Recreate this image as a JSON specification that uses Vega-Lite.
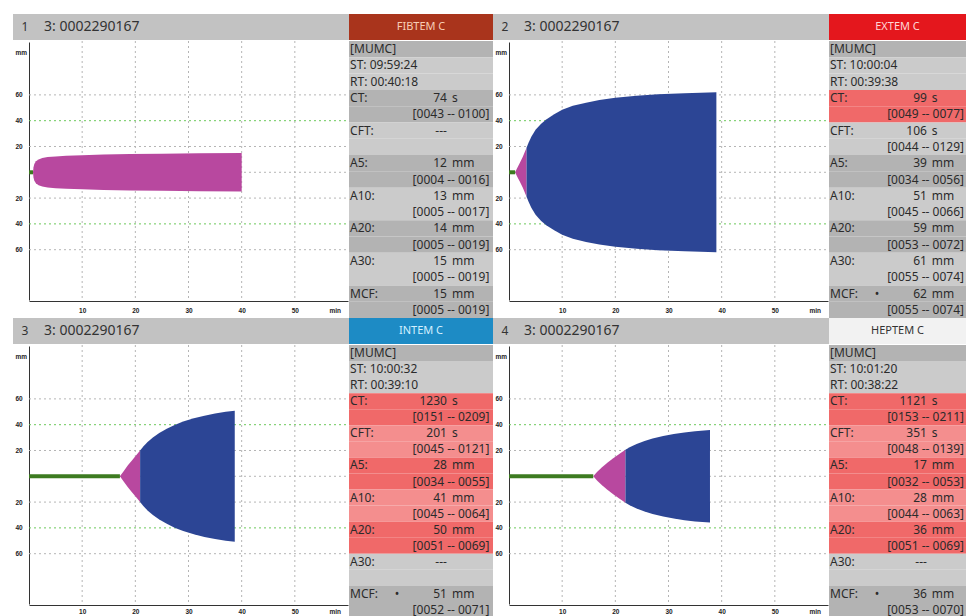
{
  "$schema": "https://vega.github.io/schema/vega-lite/v6.json",
  "padding": {"left": 13, "top": 14, "right": 0, "bottom": 0},
  "background": "white",
  "spacing": 0,
  "config": {
    "view": {"stroke": null},
    "concat": {"spacing": 0},
    "text": {"font": "Noto Sans"},
    "axis": {"ticks": false, "grid": false, "domainColor": "#333333", "domainWidth": 1, "labelFont": "Liberation Sans", "labelFontWeight": "bold", "labelFontSize": 6.5, "labelColor": "#222222", "labelOverlap": false, "labelFlush": false}
  },
  "datasets": {
    "panels": [
      {"p": 1, "sample": "3: 0002290167", "test": "FIBTEM C"},
      {"p": 2, "sample": "3: 0002290167", "test": "EXTEM C"},
      {"p": 3, "sample": "3: 0002290167", "test": "INTEM C"},
      {"p": 4, "sample": "3: 0002290167", "test": "HEPTEM C"}
    ],
    "vgrid": [{"v": 10}, {"v": 20}, {"v": 30}, {"v": 40}, {"v": 50}],
    "hgrid": [{"v": 60, "k": "g"}, {"v": 40, "k": "r"}, {"v": 20, "k": "g"}, {"v": 0, "k": "g"}, {"v": -20, "k": "g"}, {"v": -40, "k": "r"}, {"v": -60, "k": "g"}],
    "onset": [
      {"p": 1, "start": 0, "end": 0.75},
      {"p": 2, "start": 0, "end": 1.15},
      {"p": 3, "start": 0, "end": 17.1},
      {"p": 4, "start": 0, "end": 15.85}
    ],
    "trace": [
      {"p": 1, "ph": "clot", "t": 0.75, "hi": 0, "lo": 0},
      {"p": 1, "ph": "clot", "t": 0.85, "hi": 4, "lo": -4},
      {"p": 1, "ph": "clot", "t": 1.0, "hi": 6.5, "lo": -6.5},
      {"p": 1, "ph": "clot", "t": 1.3, "hi": 8.5, "lo": -8.5},
      {"p": 1, "ph": "clot", "t": 1.8, "hi": 10, "lo": -10},
      {"p": 1, "ph": "clot", "t": 2.5, "hi": 11, "lo": -11},
      {"p": 1, "ph": "clot", "t": 3.5, "hi": 11.8, "lo": -11.8},
      {"p": 1, "ph": "clot", "t": 5, "hi": 12.3, "lo": -12.3},
      {"p": 1, "ph": "clot", "t": 7, "hi": 12.8, "lo": -12.8},
      {"p": 1, "ph": "clot", "t": 10, "hi": 13.2, "lo": -13.2},
      {"p": 1, "ph": "clot", "t": 14, "hi": 13.7, "lo": -13.7},
      {"p": 1, "ph": "clot", "t": 19, "hi": 14.1, "lo": -14.1},
      {"p": 1, "ph": "clot", "t": 25, "hi": 14.4, "lo": -14.4},
      {"p": 1, "ph": "clot", "t": 32, "hi": 14.7, "lo": -14.7},
      {"p": 1, "ph": "clot", "t": 40, "hi": 14.9, "lo": -14.9},
      {"p": 2, "ph": "clot", "t": 1.15, "hi": 0, "lo": 0},
      {"p": 2, "ph": "clot", "t": 1.5, "hi": 3, "lo": -3},
      {"p": 2, "ph": "clot", "t": 2.0, "hi": 7, "lo": -7},
      {"p": 2, "ph": "clot", "t": 2.6, "hi": 12, "lo": -12},
      {"p": 2, "ph": "clot", "t": 3.3, "hi": 19, "lo": -19},
      {"p": 2, "ph": "firm", "t": 3.3, "hi": 19, "lo": -19},
      {"p": 2, "ph": "firm", "t": 3.7, "hi": 23, "lo": -23},
      {"p": 2, "ph": "firm", "t": 4.2, "hi": 27.5, "lo": -27.5},
      {"p": 2, "ph": "firm", "t": 5, "hi": 33, "lo": -33},
      {"p": 2, "ph": "firm", "t": 6, "hi": 37.5, "lo": -37.5},
      {"p": 2, "ph": "firm", "t": 7, "hi": 41, "lo": -41},
      {"p": 2, "ph": "firm", "t": 8.5, "hi": 45, "lo": -45},
      {"p": 2, "ph": "firm", "t": 10, "hi": 48.5, "lo": -48.5},
      {"p": 2, "ph": "firm", "t": 12, "hi": 51.5, "lo": -51.5},
      {"p": 2, "ph": "firm", "t": 14.5, "hi": 54, "lo": -54},
      {"p": 2, "ph": "firm", "t": 17, "hi": 56, "lo": -56},
      {"p": 2, "ph": "firm", "t": 20, "hi": 57.8, "lo": -57.8},
      {"p": 2, "ph": "firm", "t": 24, "hi": 59.3, "lo": -59.3},
      {"p": 2, "ph": "firm", "t": 28, "hi": 60.4, "lo": -60.4},
      {"p": 2, "ph": "firm", "t": 33, "hi": 61.3, "lo": -61.3},
      {"p": 2, "ph": "firm", "t": 39, "hi": 62, "lo": -62},
      {"p": 3, "ph": "clot", "t": 17.1, "hi": 0, "lo": 0},
      {"p": 3, "ph": "clot", "t": 17.8, "hi": 4, "lo": -4},
      {"p": 3, "ph": "clot", "t": 18.6, "hi": 8.5, "lo": -8.5},
      {"p": 3, "ph": "clot", "t": 19.4, "hi": 12.5, "lo": -12.5},
      {"p": 3, "ph": "clot", "t": 20.2, "hi": 16.5, "lo": -16.5},
      {"p": 3, "ph": "clot", "t": 20.9, "hi": 20, "lo": -20},
      {"p": 3, "ph": "firm", "t": 20.9, "hi": 20, "lo": -20},
      {"p": 3, "ph": "firm", "t": 21.5, "hi": 23, "lo": -23},
      {"p": 3, "ph": "firm", "t": 22.3, "hi": 26.5, "lo": -26.5},
      {"p": 3, "ph": "firm", "t": 23.3, "hi": 30, "lo": -30},
      {"p": 3, "ph": "firm", "t": 24.5, "hi": 33.5, "lo": -33.5},
      {"p": 3, "ph": "firm", "t": 26, "hi": 37, "lo": -37},
      {"p": 3, "ph": "firm", "t": 27.5, "hi": 40, "lo": -40},
      {"p": 3, "ph": "firm", "t": 29, "hi": 42.5, "lo": -42.5},
      {"p": 3, "ph": "firm", "t": 31, "hi": 45, "lo": -45},
      {"p": 3, "ph": "firm", "t": 33, "hi": 47, "lo": -47},
      {"p": 3, "ph": "firm", "t": 35, "hi": 48.7, "lo": -48.7},
      {"p": 3, "ph": "firm", "t": 37, "hi": 50, "lo": -50},
      {"p": 3, "ph": "firm", "t": 38.7, "hi": 50.8, "lo": -50.8},
      {"p": 4, "ph": "clot", "t": 15.85, "hi": 0, "lo": 0},
      {"p": 4, "ph": "clot", "t": 16.6, "hi": 3.5, "lo": -3.5},
      {"p": 4, "ph": "clot", "t": 17.5, "hi": 7, "lo": -7},
      {"p": 4, "ph": "clot", "t": 18.5, "hi": 10.5, "lo": -10.5},
      {"p": 4, "ph": "clot", "t": 19.6, "hi": 14, "lo": -14},
      {"p": 4, "ph": "clot", "t": 20.8, "hi": 17.5, "lo": -17.5},
      {"p": 4, "ph": "clot", "t": 21.9, "hi": 20.5, "lo": -20.5},
      {"p": 4, "ph": "firm", "t": 21.9, "hi": 20.5, "lo": -20.5},
      {"p": 4, "ph": "firm", "t": 22.7, "hi": 22.5, "lo": -22.5},
      {"p": 4, "ph": "firm", "t": 24, "hi": 25, "lo": -25},
      {"p": 4, "ph": "firm", "t": 25.5, "hi": 27.3, "lo": -27.3},
      {"p": 4, "ph": "firm", "t": 27, "hi": 29.2, "lo": -29.2},
      {"p": 4, "ph": "firm", "t": 29, "hi": 31.2, "lo": -31.2},
      {"p": 4, "ph": "firm", "t": 31, "hi": 32.8, "lo": -32.8},
      {"p": 4, "ph": "firm", "t": 33, "hi": 34, "lo": -34},
      {"p": 4, "ph": "firm", "t": 35, "hi": 35, "lo": -35},
      {"p": 4, "ph": "firm", "t": 37.8, "hi": 35.9, "lo": -35.9}
    ],
    "info": [
      {"p": 1, "l": 0, "tone": "g1", "lab": "[MUMC]"},
      {"p": 1, "l": 1, "tone": "g2", "lab": "ST: 09:59:24"},
      {"p": 1, "l": 2, "tone": "g2", "lab": "RT: 00:40:18"},
      {"p": 1, "l": 3, "tone": "g1", "lab": "CT:", "num": "74", "unit": "s"},
      {"p": 1, "l": 4, "tone": "g1", "rng": "[0043 -- 0100]"},
      {"p": 1, "l": 5, "tone": "g2", "lab": "CFT:", "num": "---"},
      {"p": 1, "l": 6, "tone": "g2"},
      {"p": 1, "l": 7, "tone": "g1", "lab": "A5:", "num": "12", "unit": "mm"},
      {"p": 1, "l": 8, "tone": "g1", "rng": "[0004 -- 0016]"},
      {"p": 1, "l": 9, "tone": "g2", "lab": "A10:", "num": "13", "unit": "mm"},
      {"p": 1, "l": 10, "tone": "g2", "rng": "[0005 -- 0017]"},
      {"p": 1, "l": 11, "tone": "g1", "lab": "A20:", "num": "14", "unit": "mm"},
      {"p": 1, "l": 12, "tone": "g1", "rng": "[0005 -- 0019]"},
      {"p": 1, "l": 13, "tone": "g2", "lab": "A30:", "num": "15", "unit": "mm"},
      {"p": 1, "l": 14, "tone": "g2", "rng": "[0005 -- 0019]"},
      {"p": 1, "l": 15, "tone": "g1", "lab": "MCF:", "num": "15", "unit": "mm"},
      {"p": 1, "l": 16, "tone": "g1", "rng": "[0005 -- 0019]"},
      {"p": 2, "l": 0, "tone": "g1", "lab": "[MUMC]"},
      {"p": 2, "l": 1, "tone": "g2", "lab": "ST: 10:00:04"},
      {"p": 2, "l": 2, "tone": "g2", "lab": "RT: 00:39:38"},
      {"p": 2, "l": 3, "tone": "r1", "lab": "CT:", "num": "99", "unit": "s"},
      {"p": 2, "l": 4, "tone": "r1", "rng": "[0049 -- 0077]"},
      {"p": 2, "l": 5, "tone": "g2", "lab": "CFT:", "num": "106", "unit": "s"},
      {"p": 2, "l": 6, "tone": "g2", "rng": "[0044 -- 0129]"},
      {"p": 2, "l": 7, "tone": "g1", "lab": "A5:", "num": "39", "unit": "mm"},
      {"p": 2, "l": 8, "tone": "g1", "rng": "[0034 -- 0056]"},
      {"p": 2, "l": 9, "tone": "g2", "lab": "A10:", "num": "51", "unit": "mm"},
      {"p": 2, "l": 10, "tone": "g2", "rng": "[0045 -- 0066]"},
      {"p": 2, "l": 11, "tone": "g1", "lab": "A20:", "num": "59", "unit": "mm"},
      {"p": 2, "l": 12, "tone": "g1", "rng": "[0053 -- 0072]"},
      {"p": 2, "l": 13, "tone": "g2", "lab": "A30:", "num": "61", "unit": "mm"},
      {"p": 2, "l": 14, "tone": "g2", "rng": "[0055 -- 0074]"},
      {"p": 2, "l": 15, "tone": "g1", "lab": "MCF:", "star": "•", "num": "62", "unit": "mm"},
      {"p": 2, "l": 16, "tone": "g1", "rng": "[0055 -- 0074]"},
      {"p": 3, "l": 0, "tone": "g1", "lab": "[MUMC]"},
      {"p": 3, "l": 1, "tone": "g2", "lab": "ST: 10:00:32"},
      {"p": 3, "l": 2, "tone": "g2", "lab": "RT: 00:39:10"},
      {"p": 3, "l": 3, "tone": "r1", "lab": "CT:", "num": "1230", "unit": "s"},
      {"p": 3, "l": 4, "tone": "r1", "rng": "[0151 -- 0209]"},
      {"p": 3, "l": 5, "tone": "r2", "lab": "CFT:", "num": "201", "unit": "s"},
      {"p": 3, "l": 6, "tone": "r2", "rng": "[0045 -- 0121]"},
      {"p": 3, "l": 7, "tone": "r1", "lab": "A5:", "num": "28", "unit": "mm"},
      {"p": 3, "l": 8, "tone": "r1", "rng": "[0034 -- 0055]"},
      {"p": 3, "l": 9, "tone": "r2", "lab": "A10:", "num": "41", "unit": "mm"},
      {"p": 3, "l": 10, "tone": "r2", "rng": "[0045 -- 0064]"},
      {"p": 3, "l": 11, "tone": "r1", "lab": "A20:", "num": "50", "unit": "mm"},
      {"p": 3, "l": 12, "tone": "r1", "rng": "[0051 -- 0069]"},
      {"p": 3, "l": 13, "tone": "g2", "lab": "A30:", "num": "---"},
      {"p": 3, "l": 14, "tone": "g2"},
      {"p": 3, "l": 15, "tone": "g1", "lab": "MCF:", "star": "•", "num": "51", "unit": "mm"},
      {"p": 3, "l": 16, "tone": "g1", "rng": "[0052 -- 0071]"},
      {"p": 4, "l": 0, "tone": "g1", "lab": "[MUMC]"},
      {"p": 4, "l": 1, "tone": "g2", "lab": "ST: 10:01:20"},
      {"p": 4, "l": 2, "tone": "g2", "lab": "RT: 00:38:22"},
      {"p": 4, "l": 3, "tone": "r1", "lab": "CT:", "num": "1121", "unit": "s"},
      {"p": 4, "l": 4, "tone": "r1", "rng": "[0153 -- 0211]"},
      {"p": 4, "l": 5, "tone": "r2", "lab": "CFT:", "num": "351", "unit": "s"},
      {"p": 4, "l": 6, "tone": "r2", "rng": "[0048 -- 0139]"},
      {"p": 4, "l": 7, "tone": "r1", "lab": "A5:", "num": "17", "unit": "mm"},
      {"p": 4, "l": 8, "tone": "r1", "rng": "[0032 -- 0053]"},
      {"p": 4, "l": 9, "tone": "r2", "lab": "A10:", "num": "28", "unit": "mm"},
      {"p": 4, "l": 10, "tone": "r2", "rng": "[0044 -- 0063]"},
      {"p": 4, "l": 11, "tone": "r1", "lab": "A20:", "num": "36", "unit": "mm"},
      {"p": 4, "l": 12, "tone": "r1", "rng": "[0051 -- 0069]"},
      {"p": 4, "l": 13, "tone": "g2", "lab": "A30:", "num": "---"},
      {"p": 4, "l": 14, "tone": "g2"},
      {"p": 4, "l": 15, "tone": "g1", "lab": "MCF:", "star": "•", "num": "36", "unit": "mm"},
      {"p": 4, "l": 16, "tone": "g1", "rng": "[0053 -- 0070]"}
    ]
  },
  "vconcat": [
    {
      "spacing": 0,
      "hconcat": [
        {
          "spacing": 0,
          "vconcat": [
            {
              "spacing": 0,
              "hconcat": [
                {"width": 24, "height": 26, "data": {"name": "panels"}, "transform": [{"filter": "datum.p == 1"}], "view": {"fill": "#c2c2c2"}, "mark": {"type": "text", "fontSize": 12, "color": "#333333"}, "encoding": {"text": {"field": "p", "type": "nominal"}}},
                {"width": 312, "height": 26, "data": {"name": "panels"}, "transform": [{"filter": "datum.p == 1"}], "view": {"fill": "#c2c2c2"}, "mark": {"type": "text", "fontSize": 14, "align": "left", "dx": 7, "color": "#333333"}, "encoding": {"text": {"field": "sample", "type": "nominal"}, "x": {"field": "sample", "type": "nominal", "bandPosition": 0, "scale": {"type": "band", "paddingInner": 0, "paddingOuter": 0}, "axis": null}}},
                {"width": 144, "height": 26, "data": {"name": "panels"}, "transform": [{"filter": "datum.p == 1"}], "view": {"fill": "#a9341c"}, "mark": {"type": "text", "fontSize": 11, "color": "#f8cdb5"}, "encoding": {"text": {"field": "test", "type": "nominal"}}}
              ]
            },
            {
              "spacing": 0,
              "hconcat": [
                {
                  "width": 336, "height": 260,
                  "view": {"fill": "white"},
                  "layer": [
                    {"data": {"name": "vgrid"}, "mark": {"type": "rule", "color": "#b5b5b5", "strokeDash": [2, 3], "strokeWidth": 1},
                     "encoding": {"x": {"field": "v", "type": "quantitative", "title": null, "scale": {"domain": [0, 60], "range": [16, 335], "nice": false, "zero": false}, "axis": {"values": [10, 20, 30, 40, 50, 57.5], "labelExpr": "datum.value > 55 ? 'min' : datum.label", "labelPadding": 6, "minExtent": 0, "title": null}}, "y": {"value": 0}, "y2": {"value": "height"}}},
                    {"data": {"name": "hgrid"}, "mark": {"type": "rule", "strokeDash": [2, 3], "strokeWidth": 1},
                     "encoding": {"y": {"field": "v", "type": "quantitative", "title": null, "scale": {"domain": [-99, 101], "range": [259, 1], "nice": false, "zero": false}, "axis": {"values": [93, 60, 40, 20, -20, -40, -60], "labelExpr": "datum.value > 90 ? 'mm' : '' + abs(datum.value)", "offset": -16, "labelAlign": "left", "labelPadding": 14, "minExtent": 0, "maxExtent": 16, "title": null}}, "x": {"datum": 0}, "x2": {"datum": 60}, "stroke": {"field": "k", "type": "nominal", "scale": {"domain": ["g", "r"], "range": ["#b5b5b5", "#6cc85a"]}, "legend": null}}},
                    {"data": {"name": "trace"}, "transform": [{"filter": "datum.p == 1"}], "mark": {"type": "area", "interpolate": "linear"},
                     "encoding": {"x": {"field": "t", "type": "quantitative", "title": null}, "y": {"field": "hi", "type": "quantitative", "title": null}, "y2": {"field": "lo"}, "fill": {"field": "ph", "type": "nominal", "scale": {"domain": ["clot", "firm"], "range": ["#b8489f", "#2c4595"]}, "legend": null}}},
                    {"data": {"name": "onset"}, "transform": [{"filter": "datum.p == 1"}], "mark": {"type": "rule", "color": "#3d7b21", "strokeWidth": 4},
                     "encoding": {"x": {"field": "start", "type": "quantitative", "title": null}, "x2": {"field": "end"}, "y": {"datum": 0}}}
                  ]
                },
                {
                  "width": 144, "height": 277,
                  "data": {"name": "info"},
                  "transform": [{"filter": "datum.p == 1"}],
                  "encoding": {"y": {"field": "l", "type": "ordinal", "scale": {"type": "band", "paddingInner": 0, "paddingOuter": 0}, "axis": null}},
                  "layer": [
                    {"mark": {"type": "rect"}, "encoding": {"x": {"value": 0}, "x2": {"value": "width"}, "color": {"field": "tone", "type": "nominal", "scale": {"domain": ["g1", "g2", "r1", "r2"], "range": ["#b3b3b3", "#cbcbcb", "#f06969", "#f48e8e"]}, "legend": null}}},
                    {"transform": [{"filter": "isValid(datum.lab)"}], "mark": {"type": "text", "align": "left", "fontSize": 12, "color": "#2b2b2b"}, "encoding": {"text": {"field": "lab"}, "x": {"datum": "key", "type": "nominal", "bandPosition": 0.015, "scale": {"type": "band", "domain": ["key", "val"], "paddingInner": 0, "paddingOuter": 0}, "axis": null}}},
                    {"transform": [{"filter": "isValid(datum.star)"}], "mark": {"type": "text", "align": "center", "fontSize": 12, "color": "#2b2b2b"}, "encoding": {"text": {"field": "star"}, "x": {"datum": "key", "type": "nominal", "bandPosition": 0.667}}},
                    {"transform": [{"filter": "isValid(datum.num)"}], "mark": {"type": "text", "align": "right", "fontSize": 12, "color": "#2b2b2b"}, "encoding": {"text": {"field": "num"}, "x": {"datum": "val", "type": "nominal", "bandPosition": 0.36}}},
                    {"transform": [{"filter": "isValid(datum.unit)"}], "mark": {"type": "text", "align": "left", "fontSize": 12, "color": "#2b2b2b"}, "encoding": {"text": {"field": "unit"}, "x": {"datum": "val", "type": "nominal", "bandPosition": 0.43}}},
                    {"transform": [{"filter": "isValid(datum.rng)"}], "mark": {"type": "text", "align": "right", "fontSize": 12, "color": "#2b2b2b"}, "encoding": {"text": {"field": "rng"}, "x": {"datum": "val", "type": "nominal", "bandPosition": 0.95}}}
                  ]
                }
              ]
            }
          ]
        },
        {
          "spacing": 0,
          "vconcat": [
            {
              "spacing": 0,
              "hconcat": [
                {"width": 24, "height": 26, "data": {"name": "panels"}, "transform": [{"filter": "datum.p == 2"}], "view": {"fill": "#c2c2c2"}, "mark": {"type": "text", "fontSize": 12, "color": "#333333"}, "encoding": {"text": {"field": "p", "type": "nominal"}}},
                {"width": 312, "height": 26, "data": {"name": "panels"}, "transform": [{"filter": "datum.p == 2"}], "view": {"fill": "#c2c2c2"}, "mark": {"type": "text", "fontSize": 14, "align": "left", "dx": 7, "color": "#333333"}, "encoding": {"text": {"field": "sample", "type": "nominal"}, "x": {"field": "sample", "type": "nominal", "bandPosition": 0, "scale": {"type": "band", "paddingInner": 0, "paddingOuter": 0}, "axis": null}}},
                {"width": 137, "height": 26, "data": {"name": "panels"}, "transform": [{"filter": "datum.p == 2"}], "view": {"fill": "#e4171d"}, "mark": {"type": "text", "fontSize": 11, "color": "#ffd6d6"}, "encoding": {"text": {"field": "test", "type": "nominal"}}}
              ]
            },
            {
              "spacing": 0,
              "hconcat": [
                {
                  "width": 336, "height": 260,
                  "view": {"fill": "white"},
                  "layer": [
                    {"data": {"name": "vgrid"}, "mark": {"type": "rule", "color": "#b5b5b5", "strokeDash": [2, 3], "strokeWidth": 1},
                     "encoding": {"x": {"field": "v", "type": "quantitative", "title": null, "scale": {"domain": [0, 60], "range": [16, 335], "nice": false, "zero": false}, "axis": {"values": [10, 20, 30, 40, 50, 57.5], "labelExpr": "datum.value > 55 ? 'min' : datum.label", "labelPadding": 6, "minExtent": 0, "title": null}}, "y": {"value": 0}, "y2": {"value": "height"}}},
                    {"data": {"name": "hgrid"}, "mark": {"type": "rule", "strokeDash": [2, 3], "strokeWidth": 1},
                     "encoding": {"y": {"field": "v", "type": "quantitative", "title": null, "scale": {"domain": [-99, 101], "range": [259, 1], "nice": false, "zero": false}, "axis": {"values": [93, 60, 40, 20, -20, -40, -60], "labelExpr": "datum.value > 90 ? 'mm' : '' + abs(datum.value)", "offset": -16, "labelAlign": "left", "labelPadding": 14, "minExtent": 0, "maxExtent": 16, "title": null}}, "x": {"datum": 0}, "x2": {"datum": 60}, "stroke": {"field": "k", "type": "nominal", "scale": {"domain": ["g", "r"], "range": ["#b5b5b5", "#6cc85a"]}, "legend": null}}},
                    {"data": {"name": "trace"}, "transform": [{"filter": "datum.p == 2"}], "mark": {"type": "area", "interpolate": "linear"},
                     "encoding": {"x": {"field": "t", "type": "quantitative", "title": null}, "y": {"field": "hi", "type": "quantitative", "title": null}, "y2": {"field": "lo"}, "fill": {"field": "ph", "type": "nominal", "scale": {"domain": ["clot", "firm"], "range": ["#b8489f", "#2c4595"]}, "legend": null}}},
                    {"data": {"name": "onset"}, "transform": [{"filter": "datum.p == 2"}], "mark": {"type": "rule", "color": "#3d7b21", "strokeWidth": 4},
                     "encoding": {"x": {"field": "start", "type": "quantitative", "title": null}, "x2": {"field": "end"}, "y": {"datum": 0}}}
                  ]
                },
                {
                  "width": 137, "height": 277,
                  "data": {"name": "info"},
                  "transform": [{"filter": "datum.p == 2"}],
                  "encoding": {"y": {"field": "l", "type": "ordinal", "scale": {"type": "band", "paddingInner": 0, "paddingOuter": 0}, "axis": null}},
                  "layer": [
                    {"mark": {"type": "rect"}, "encoding": {"x": {"value": 0}, "x2": {"value": "width"}, "color": {"field": "tone", "type": "nominal", "scale": {"domain": ["g1", "g2", "r1", "r2"], "range": ["#b3b3b3", "#cbcbcb", "#f06969", "#f48e8e"]}, "legend": null}}},
                    {"transform": [{"filter": "isValid(datum.lab)"}], "mark": {"type": "text", "align": "left", "fontSize": 12, "color": "#2b2b2b"}, "encoding": {"text": {"field": "lab"}, "x": {"datum": "key", "type": "nominal", "bandPosition": 0.015, "scale": {"type": "band", "domain": ["key", "val"], "paddingInner": 0, "paddingOuter": 0}, "axis": null}}},
                    {"transform": [{"filter": "isValid(datum.star)"}], "mark": {"type": "text", "align": "center", "fontSize": 12, "color": "#2b2b2b"}, "encoding": {"text": {"field": "star"}, "x": {"datum": "key", "type": "nominal", "bandPosition": 0.7}}},
                    {"transform": [{"filter": "isValid(datum.num)"}], "mark": {"type": "text", "align": "right", "fontSize": 12, "color": "#2b2b2b"}, "encoding": {"text": {"field": "num"}, "x": {"datum": "val", "type": "nominal", "bandPosition": 0.43}}},
                    {"transform": [{"filter": "isValid(datum.unit)"}], "mark": {"type": "text", "align": "left", "fontSize": 12, "color": "#2b2b2b"}, "encoding": {"text": {"field": "unit"}, "x": {"datum": "val", "type": "nominal", "bandPosition": 0.5}}},
                    {"transform": [{"filter": "isValid(datum.rng)"}], "mark": {"type": "text", "align": "right", "fontSize": 12, "color": "#2b2b2b"}, "encoding": {"text": {"field": "rng"}, "x": {"datum": "val", "type": "nominal", "bandPosition": 0.97}}}
                  ]
                }
              ]
            }
          ]
        }
      ]
    },
    {
      "spacing": 0,
      "hconcat": [
        {
          "spacing": 0,
          "vconcat": [
            {
              "spacing": 0,
              "hconcat": [
                {"width": 24, "height": 26, "data": {"name": "panels"}, "transform": [{"filter": "datum.p == 3"}], "view": {"fill": "#c2c2c2"}, "mark": {"type": "text", "fontSize": 12, "color": "#333333"}, "encoding": {"text": {"field": "p", "type": "nominal"}}},
                {"width": 312, "height": 26, "data": {"name": "panels"}, "transform": [{"filter": "datum.p == 3"}], "view": {"fill": "#c2c2c2"}, "mark": {"type": "text", "fontSize": 14, "align": "left", "dx": 7, "color": "#333333"}, "encoding": {"text": {"field": "sample", "type": "nominal"}, "x": {"field": "sample", "type": "nominal", "bandPosition": 0, "scale": {"type": "band", "paddingInner": 0, "paddingOuter": 0}, "axis": null}}},
                {"width": 144, "height": 26, "data": {"name": "panels"}, "transform": [{"filter": "datum.p == 3"}], "view": {"fill": "#1d8bc5"}, "mark": {"type": "text", "fontSize": 11, "color": "#d4f0ff"}, "encoding": {"text": {"field": "test", "type": "nominal"}}}
              ]
            },
            {
              "spacing": 0,
              "hconcat": [
                {
                  "width": 336, "height": 260,
                  "view": {"fill": "white"},
                  "layer": [
                    {"data": {"name": "vgrid"}, "mark": {"type": "rule", "color": "#b5b5b5", "strokeDash": [2, 3], "strokeWidth": 1},
                     "encoding": {"x": {"field": "v", "type": "quantitative", "title": null, "scale": {"domain": [0, 60], "range": [16, 335], "nice": false, "zero": false}, "axis": {"values": [10, 20, 30, 40, 50, 57.5], "labelExpr": "datum.value > 55 ? 'min' : datum.label", "labelPadding": 3, "minExtent": 0, "title": null}}, "y": {"value": 0}, "y2": {"value": "height"}}},
                    {"data": {"name": "hgrid"}, "mark": {"type": "rule", "strokeDash": [2, 3], "strokeWidth": 1},
                     "encoding": {"y": {"field": "v", "type": "quantitative", "title": null, "scale": {"domain": [-99, 101], "range": [259, 1], "nice": false, "zero": false}, "axis": {"values": [93, 60, 40, 20, -20, -40, -60], "labelExpr": "datum.value > 90 ? 'mm' : '' + abs(datum.value)", "offset": -16, "labelAlign": "left", "labelPadding": 14, "minExtent": 0, "maxExtent": 16, "title": null}}, "x": {"datum": 0}, "x2": {"datum": 60}, "stroke": {"field": "k", "type": "nominal", "scale": {"domain": ["g", "r"], "range": ["#b5b5b5", "#6cc85a"]}, "legend": null}}},
                    {"data": {"name": "trace"}, "transform": [{"filter": "datum.p == 3"}], "mark": {"type": "area", "interpolate": "linear"},
                     "encoding": {"x": {"field": "t", "type": "quantitative", "title": null}, "y": {"field": "hi", "type": "quantitative", "title": null}, "y2": {"field": "lo"}, "fill": {"field": "ph", "type": "nominal", "scale": {"domain": ["clot", "firm"], "range": ["#b8489f", "#2c4595"]}, "legend": null}}},
                    {"data": {"name": "onset"}, "transform": [{"filter": "datum.p == 3"}], "mark": {"type": "rule", "color": "#3d7b21", "strokeWidth": 4},
                     "encoding": {"x": {"field": "start", "type": "quantitative", "title": null}, "x2": {"field": "end"}, "y": {"datum": 0}}}
                  ]
                },
                {
                  "width": 144, "height": 273,
                  "data": {"name": "info"},
                  "transform": [{"filter": "datum.p == 3"}],
                  "encoding": {"y": {"field": "l", "type": "ordinal", "scale": {"type": "band", "paddingInner": 0, "paddingOuter": 0}, "axis": null}},
                  "layer": [
                    {"mark": {"type": "rect"}, "encoding": {"x": {"value": 0}, "x2": {"value": "width"}, "color": {"field": "tone", "type": "nominal", "scale": {"domain": ["g1", "g2", "r1", "r2"], "range": ["#b3b3b3", "#cbcbcb", "#f06969", "#f48e8e"]}, "legend": null}}},
                    {"transform": [{"filter": "isValid(datum.lab)"}], "mark": {"type": "text", "align": "left", "fontSize": 12, "color": "#2b2b2b"}, "encoding": {"text": {"field": "lab"}, "x": {"datum": "key", "type": "nominal", "bandPosition": 0.015, "scale": {"type": "band", "domain": ["key", "val"], "paddingInner": 0, "paddingOuter": 0}, "axis": null}}},
                    {"transform": [{"filter": "isValid(datum.star)"}], "mark": {"type": "text", "align": "center", "fontSize": 12, "color": "#2b2b2b"}, "encoding": {"text": {"field": "star"}, "x": {"datum": "key", "type": "nominal", "bandPosition": 0.667}}},
                    {"transform": [{"filter": "isValid(datum.num)"}], "mark": {"type": "text", "align": "right", "fontSize": 12, "color": "#2b2b2b"}, "encoding": {"text": {"field": "num"}, "x": {"datum": "val", "type": "nominal", "bandPosition": 0.36}}},
                    {"transform": [{"filter": "isValid(datum.unit)"}], "mark": {"type": "text", "align": "left", "fontSize": 12, "color": "#2b2b2b"}, "encoding": {"text": {"field": "unit"}, "x": {"datum": "val", "type": "nominal", "bandPosition": 0.43}}},
                    {"transform": [{"filter": "isValid(datum.rng)"}], "mark": {"type": "text", "align": "right", "fontSize": 12, "color": "#2b2b2b"}, "encoding": {"text": {"field": "rng"}, "x": {"datum": "val", "type": "nominal", "bandPosition": 0.95}}}
                  ]
                }
              ]
            }
          ]
        },
        {
          "spacing": 0,
          "vconcat": [
            {
              "spacing": 0,
              "hconcat": [
                {"width": 24, "height": 26, "data": {"name": "panels"}, "transform": [{"filter": "datum.p == 4"}], "view": {"fill": "#c2c2c2"}, "mark": {"type": "text", "fontSize": 12, "color": "#333333"}, "encoding": {"text": {"field": "p", "type": "nominal"}}},
                {"width": 312, "height": 26, "data": {"name": "panels"}, "transform": [{"filter": "datum.p == 4"}], "view": {"fill": "#c2c2c2"}, "mark": {"type": "text", "fontSize": 14, "align": "left", "dx": 7, "color": "#333333"}, "encoding": {"text": {"field": "sample", "type": "nominal"}, "x": {"field": "sample", "type": "nominal", "bandPosition": 0, "scale": {"type": "band", "paddingInner": 0, "paddingOuter": 0}, "axis": null}}},
                {"width": 137, "height": 26, "data": {"name": "panels"}, "transform": [{"filter": "datum.p == 4"}], "view": {"fill": "#f2f2f2"}, "mark": {"type": "text", "fontSize": 11, "color": "#333333"}, "encoding": {"text": {"field": "test", "type": "nominal"}}}
              ]
            },
            {
              "spacing": 0,
              "hconcat": [
                {
                  "width": 336, "height": 260,
                  "view": {"fill": "white"},
                  "layer": [
                    {"data": {"name": "vgrid"}, "mark": {"type": "rule", "color": "#b5b5b5", "strokeDash": [2, 3], "strokeWidth": 1},
                     "encoding": {"x": {"field": "v", "type": "quantitative", "title": null, "scale": {"domain": [0, 60], "range": [16, 335], "nice": false, "zero": false}, "axis": {"values": [10, 20, 30, 40, 50, 57.5], "labelExpr": "datum.value > 55 ? 'min' : datum.label", "labelPadding": 3, "minExtent": 0, "title": null}}, "y": {"value": 0}, "y2": {"value": "height"}}},
                    {"data": {"name": "hgrid"}, "mark": {"type": "rule", "strokeDash": [2, 3], "strokeWidth": 1},
                     "encoding": {"y": {"field": "v", "type": "quantitative", "title": null, "scale": {"domain": [-99, 101], "range": [259, 1], "nice": false, "zero": false}, "axis": {"values": [93, 60, 40, 20, -20, -40, -60], "labelExpr": "datum.value > 90 ? 'mm' : '' + abs(datum.value)", "offset": -16, "labelAlign": "left", "labelPadding": 14, "minExtent": 0, "maxExtent": 16, "title": null}}, "x": {"datum": 0}, "x2": {"datum": 60}, "stroke": {"field": "k", "type": "nominal", "scale": {"domain": ["g", "r"], "range": ["#b5b5b5", "#6cc85a"]}, "legend": null}}},
                    {"data": {"name": "trace"}, "transform": [{"filter": "datum.p == 4"}], "mark": {"type": "area", "interpolate": "linear"},
                     "encoding": {"x": {"field": "t", "type": "quantitative", "title": null}, "y": {"field": "hi", "type": "quantitative", "title": null}, "y2": {"field": "lo"}, "fill": {"field": "ph", "type": "nominal", "scale": {"domain": ["clot", "firm"], "range": ["#b8489f", "#2c4595"]}, "legend": null}}},
                    {"data": {"name": "onset"}, "transform": [{"filter": "datum.p == 4"}], "mark": {"type": "rule", "color": "#3d7b21", "strokeWidth": 4},
                     "encoding": {"x": {"field": "start", "type": "quantitative", "title": null}, "x2": {"field": "end"}, "y": {"datum": 0}}}
                  ]
                },
                {
                  "width": 137, "height": 273,
                  "data": {"name": "info"},
                  "transform": [{"filter": "datum.p == 4"}],
                  "encoding": {"y": {"field": "l", "type": "ordinal", "scale": {"type": "band", "paddingInner": 0, "paddingOuter": 0}, "axis": null}},
                  "layer": [
                    {"mark": {"type": "rect"}, "encoding": {"x": {"value": 0}, "x2": {"value": "width"}, "color": {"field": "tone", "type": "nominal", "scale": {"domain": ["g1", "g2", "r1", "r2"], "range": ["#b3b3b3", "#cbcbcb", "#f06969", "#f48e8e"]}, "legend": null}}},
                    {"transform": [{"filter": "isValid(datum.lab)"}], "mark": {"type": "text", "align": "left", "fontSize": 12, "color": "#2b2b2b"}, "encoding": {"text": {"field": "lab"}, "x": {"datum": "key", "type": "nominal", "bandPosition": 0.015, "scale": {"type": "band", "domain": ["key", "val"], "paddingInner": 0, "paddingOuter": 0}, "axis": null}}},
                    {"transform": [{"filter": "isValid(datum.star)"}], "mark": {"type": "text", "align": "center", "fontSize": 12, "color": "#2b2b2b"}, "encoding": {"text": {"field": "star"}, "x": {"datum": "key", "type": "nominal", "bandPosition": 0.7}}},
                    {"transform": [{"filter": "isValid(datum.num)"}], "mark": {"type": "text", "align": "right", "fontSize": 12, "color": "#2b2b2b"}, "encoding": {"text": {"field": "num"}, "x": {"datum": "val", "type": "nominal", "bandPosition": 0.43}}},
                    {"transform": [{"filter": "isValid(datum.unit)"}], "mark": {"type": "text", "align": "left", "fontSize": 12, "color": "#2b2b2b"}, "encoding": {"text": {"field": "unit"}, "x": {"datum": "val", "type": "nominal", "bandPosition": 0.5}}},
                    {"transform": [{"filter": "isValid(datum.rng)"}], "mark": {"type": "text", "align": "right", "fontSize": 12, "color": "#2b2b2b"}, "encoding": {"text": {"field": "rng"}, "x": {"datum": "val", "type": "nominal", "bandPosition": 0.97}}}
                  ]
                }
              ]
            }
          ]
        }
      ]
    }
  ]
}
